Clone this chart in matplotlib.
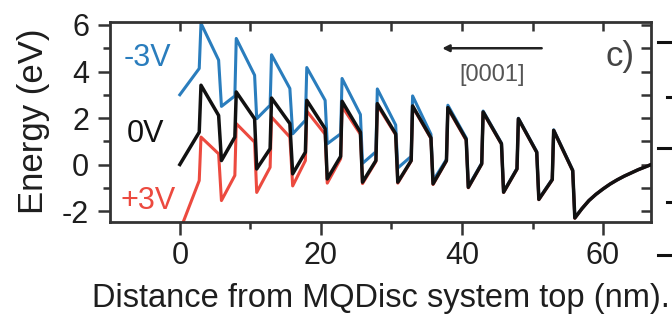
import matplotlib
matplotlib.use("Agg")
import matplotlib.pyplot as plt
from matplotlib.lines import Line2D
from matplotlib.ticker import MultipleLocator
import numpy as np

plt.rcParams['font.family'] = ['Liberation Sans', 'DejaVu Sans']
plt.rcParams['axes.unicode_minus'] = False

# ---------------- data ----------------
# x positions (nm) of the band-profile vertices, per period
well_top_x     = [2.75, 7.8, 12.8, 17.8, 22.8, 27.8, 32.8, 37.8, 42.8, 47.8, 52.8]
peak_x         = [3.0, 8.0, 13.0, 18.0, 23.0, 28.0, 33.0, 38.0, 43.0, 48.0, 53.0]
barrier_end_x  = [5.5, 10.6, 15.6, 20.6, 25.6, 30.6, 35.6, 40.6, 45.6, 50.6, 55.7]
trough_x       = [5.9, 10.9, 16.0, 20.9, 25.9, 30.9, 35.9, 40.9, 45.9, 50.9, 56.0]
tail_x         = [57, 58, 59, 60, 61, 62, 63, 64, 65, 66, 67]

# 0 V (black)
zero_start       = 0.0
zero_well_top    = [1.39, 1.18, 0.68, 0.53, 0.35, 0.17, 0.17, 0.17, 0.03, -0.19, -0.65]
zero_peak        = [3.41, 3.12, 2.86, 2.76, 2.72, 2.62, 2.52, 2.45, 2.26, 1.97, 1.47]
zero_barrier_end = [2.11, 1.97, 1.76, 1.54, 1.39, 1.32, 1.15, 1.08, 0.89, 0.53, -0.26]
zero_trough      = [0.17, -0.19, -0.40, -0.62, -0.76, -0.76, -0.83, -0.98, -1.19, -1.50, -2.30]

# -3 V (blue)
neg_start       = 3.0
neg_well_top    = [4.13, 2.95, 2.55, 1.90, 1.32, 0.55, 0.35, 0.22, 0.06, -0.17, -0.63]
neg_peak        = [6.07, 5.42, 4.72, 4.17, 3.70, 3.25, 2.95, 2.55, 2.30, 1.99, 1.49]
neg_barrier_end = [4.49, 3.84, 3.27, 2.76, 2.15, 1.70, 1.30, 1.14, 0.92, 0.55, -0.24]
neg_trough      = [2.50, 1.97, 1.32, 0.89, 0.05, -0.15, -0.70, -0.94, -1.17, -1.48, -2.28]

# +3 V (red)
pos_start       = -2.85
pos_well_top    = [-0.69, -0.47, -0.12, 0.17, 0.25, 0.13, 0.15, 0.15, 0.02, -0.20, -0.66]
pos_peak        = [1.18, 1.76, 2.04, 2.30, 2.50, 2.55, 2.48, 2.41, 2.24, 1.96, 1.46]
pos_barrier_end = [0.46, 0.96, 1.18, 1.30, 1.30, 1.28, 1.12, 1.04, 0.88, 0.52, -0.27]
pos_trough      = [-1.55, -1.20, -0.92, -0.80, -0.82, -0.80, -0.86, -1.00, -1.20, -1.51, -2.31]

# depletion tail after the last barrier (shared)
tail_energy = [-1.90, -1.55, -1.28, -1.05, -0.84, -0.66, -0.50, -0.36, -0.22, -0.10, 0.02]

labels = ['-3V', '0V', '+3V']
colors = ['#2a7dbd', '#111111', '#ec4a3f']


def profile(start, well_top, peak, barrier_end, trough):
    xs = [0.0]
    ys = [start]
    for i in range(len(peak_x)):
        xs += [well_top_x[i], peak_x[i], barrier_end_x[i], trough_x[i]]
        ys += [well_top[i], peak[i], barrier_end[i], trough[i]]
    xs += list(tail_x)
    ys += list(tail_energy)
    return np.array(xs), np.array(ys)


fig = plt.figure(figsize=(6.72, 3.20), dpi=100)
ax = fig.add_axes([110 / 672, 1 - 221.5 / 320, 541 / 672, 200 / 320])

spine_c = '#333333'
txt_c = '#1e1e1e'
lw = 2.2
x_b, y_b = profile(neg_start, neg_well_top, neg_peak, neg_barrier_end, neg_trough)
x_r, y_r = profile(pos_start, pos_well_top, pos_peak, pos_barrier_end, pos_trough)
x_k, y_k = profile(zero_start, zero_well_top, zero_peak, zero_barrier_end, zero_trough)
ax.plot(x_b, y_b, color=colors[0], lw=lw, zorder=2)
ax.plot(x_r, y_r, color=colors[2], lw=lw, zorder=2)
ax.plot(x_k, y_k, color=colors[1], lw=lw + 0.3, zorder=3)

ax.set_xlim(-9.9, 66.8)
ax.set_ylim(-2.45, 6.15)

ax.xaxis.set_major_locator(MultipleLocator(20))
ax.xaxis.set_minor_locator(MultipleLocator(10))
ax.yaxis.set_major_locator(MultipleLocator(2))
ax.yaxis.set_minor_locator(MultipleLocator(1))

fs = 22
ax.tick_params(which='major', direction='out', length=9, width=1.8,
               color=spine_c, labelsize=fs, labelcolor=txt_c)
ax.tick_params(axis='y', which='major', pad=6)
ax.tick_params(axis='x', which='major', pad=5)
ax.tick_params(which='minor', direction='out', length=5, width=1.8, color=spine_c)
for s in ax.spines.values():
    s.set_linewidth(2.0)
    s.set_color(spine_c)

# inward ticks on top and right
secx = ax.secondary_xaxis('top')
secx.xaxis.set_major_locator(MultipleLocator(10))
secx.tick_params(direction='in', length=7, width=1.8, color=spine_c, labeltop=False)
secx.spines['top'].set_visible(False)
secy = ax.secondary_yaxis('right')
secy.yaxis.set_major_locator(MultipleLocator(1))
secy.tick_params(direction='in', length=7, width=1.8, color=spine_c, labelright=False)
secy.spines['right'].set_visible(False)

ax.set_xlabel('Distance from MQDisc system top (nm).', fontsize=23.5, color=txt_c, labelpad=9)
ax.set_ylabel('Energy (eV)', fontsize=25, color=txt_c, labelpad=9)

# series labels
ax.text(-4.6, 4.56, labels[0], color=colors[0], fontsize=22, ha='center', va='center')
ax.text(-4.9, 1.33, labels[1], color=colors[1], fontsize=22, ha='center', va='center')
ax.text(-4.5, -1.55, labels[2], color=colors[2], fontsize=22, ha='center', va='center')

# growth-direction arrow
ax.annotate('', xy=(37.2, 5.0), xytext=(51.3, 5.0),
            arrowprops=dict(arrowstyle='-|>', color='#222222', lw=1.8,
                            mutation_scale=10, shrinkA=0, shrinkB=0))
ax.text(44.3, 3.83, '[0001]', fontsize=17, color='#555555', ha='center', va='center')
ax.text(62.4, 4.65, 'c)', fontsize=25, color='#444444', ha='center', va='center')

# edge of the neighbouring panel (cut off at the right)
for yy, long in [(41.7, True), (96.7, False), (148.3, True), (201.7, False), (255, True)]:
    x0 = 658 if long else 667
    fig.add_artist(Line2D([x0 / 672, 671 / 672], [1 - yy / 320, 1 - yy / 320],
                          transform=fig.transFigure, color='#111111', lw=2.2))

fig.savefig('out.png', dpi=100)
